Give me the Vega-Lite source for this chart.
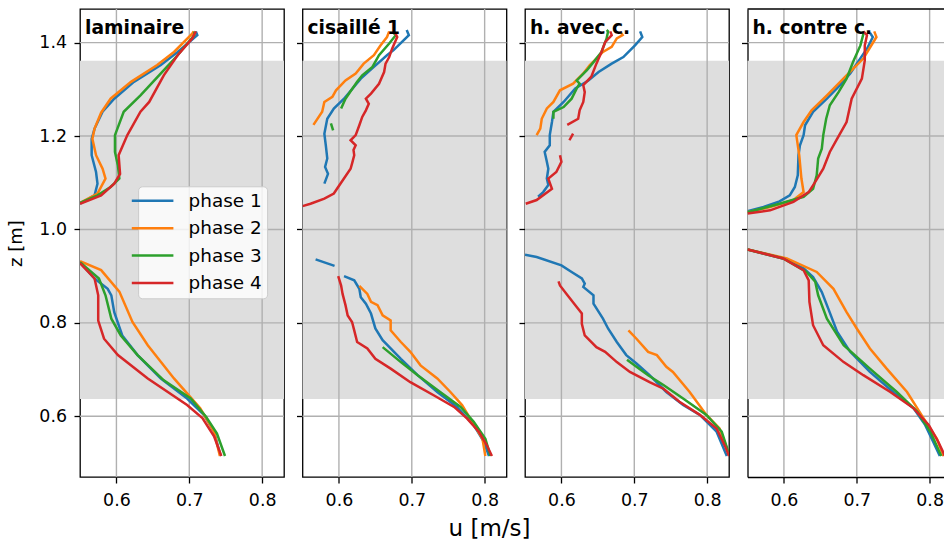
{
"$schema": "https://vega.github.io/schema/vega-lite/v6.json",
"padding": {"left": 7, "top": 7, "right": 0, "bottom": 0},
"background": "white",
"bounds": "flush",
"spacing": 18.5,
"config": {
 "font": "DejaVu Sans",
 "view": {"stroke": "black", "strokeWidth": 1.3},
 "axis": {"grid": false, "domain": false, "tickColor": "black", "tickSize": 6, "tickWidth": 1.3, "labelColor": "black", "labelFontSize": 17.4, "labelFont": "DejaVu Sans", "titleFont": "DejaVu Sans", "titleFontWeight": "normal", "titleColor": "black", "labelPadding": 7.5},
 "legend": {"labelFont": "DejaVu Sans"}
},
"resolve": {"legend": {"color": "independent"}},
"datasets": {
 "band": [{"z0": 0.637, "z1": 1.361}],
 "xg": [{"g": 0.6}, {"g": 0.7}, {"g": 0.8}],
 "yg": [{"g": 0.6}, {"g": 0.8}, {"g": 1.0}, {"g": 1.2}, {"g": 1.4}],
 "topb": [{"g": 1.472}],
 "d": [
{"p":1,"ph":"phase 1","s":"a","u":0.550,"z":0.930},{"p":1,"ph":"phase 1","s":"a","u":0.570,"z":0.895},{"p":1,"ph":"phase 1","s":"a","u":0.588,"z":0.873},{"p":1,"ph":"phase 1","s":"a","u":0.593,"z":0.859},{"p":1,"ph":"phase 1","s":"a","u":0.597,"z":0.823},{"p":1,"ph":"phase 1","s":"a","u":0.608,"z":0.773},{"p":1,"ph":"phase 1","s":"a","u":0.629,"z":0.731},{"p":1,"ph":"phase 1","s":"a","u":0.661,"z":0.681},{"p":1,"ph":"phase 1","s":"a","u":0.697,"z":0.638},{"p":1,"ph":"phase 1","s":"a","u":0.720,"z":0.603},{"p":1,"ph":"phase 1","s":"a","u":0.734,"z":0.567},{"p":1,"ph":"phase 1","s":"a","u":0.743,"z":0.515},
{"p":1,"ph":"phase 1","s":"b","u":0.550,"z":1.055},{"p":1,"ph":"phase 1","s":"b","u":0.570,"z":1.073},{"p":1,"ph":"phase 1","s":"b","u":0.574,"z":1.098},{"p":1,"ph":"phase 1","s":"b","u":0.572,"z":1.123},{"p":1,"ph":"phase 1","s":"b","u":0.566,"z":1.159},{"p":1,"ph":"phase 1","s":"b","u":0.566,"z":1.194},{"p":1,"ph":"phase 1","s":"b","u":0.570,"z":1.216},{"p":1,"ph":"phase 1","s":"b","u":0.581,"z":1.252},{"p":1,"ph":"phase 1","s":"b","u":0.597,"z":1.280},{"p":1,"ph":"phase 1","s":"b","u":0.624,"z":1.316},{"p":1,"ph":"phase 1","s":"b","u":0.661,"z":1.352},{"p":1,"ph":"phase 1","s":"b","u":0.684,"z":1.380},{"p":1,"ph":"phase 1","s":"b","u":0.711,"z":1.416},{"p":1,"ph":"phase 1","s":"b","u":0.709,"z":1.424},
{"p":1,"ph":"phase 2","s":"a","u":0.550,"z":0.932},{"p":1,"ph":"phase 2","s":"a","u":0.579,"z":0.913},{"p":1,"ph":"phase 2","s":"a","u":0.604,"z":0.867},{"p":1,"ph":"phase 2","s":"a","u":0.622,"z":0.802},{"p":1,"ph":"phase 2","s":"a","u":0.643,"z":0.752},{"p":1,"ph":"phase 2","s":"a","u":0.679,"z":0.681},{"p":1,"ph":"phase 2","s":"a","u":0.715,"z":0.617},{"p":1,"ph":"phase 2","s":"a","u":0.734,"z":0.567},{"p":1,"ph":"phase 2","s":"a","u":0.742,"z":0.515},
{"p":1,"ph":"phase 2","s":"b","u":0.550,"z":1.057},{"p":1,"ph":"phase 2","s":"b","u":0.574,"z":1.077},{"p":1,"ph":"phase 2","s":"b","u":0.585,"z":1.109},{"p":1,"ph":"phase 2","s":"b","u":0.581,"z":1.130},{"p":1,"ph":"phase 2","s":"b","u":0.572,"z":1.159},{"p":1,"ph":"phase 2","s":"b","u":0.567,"z":1.194},{"p":1,"ph":"phase 2","s":"b","u":0.570,"z":1.216},{"p":1,"ph":"phase 2","s":"b","u":0.579,"z":1.250},{"p":1,"ph":"phase 2","s":"b","u":0.592,"z":1.280},{"p":1,"ph":"phase 2","s":"b","u":0.620,"z":1.316},{"p":1,"ph":"phase 2","s":"b","u":0.656,"z":1.352},{"p":1,"ph":"phase 2","s":"b","u":0.679,"z":1.380},{"p":1,"ph":"phase 2","s":"b","u":0.704,"z":1.419},{"p":1,"ph":"phase 2","s":"b","u":0.706,"z":1.424},
{"p":1,"ph":"phase 3","s":"a","u":0.550,"z":0.930},{"p":1,"ph":"phase 3","s":"a","u":0.576,"z":0.895},{"p":1,"ph":"phase 3","s":"a","u":0.585,"z":0.859},{"p":1,"ph":"phase 3","s":"a","u":0.593,"z":0.809},{"p":1,"ph":"phase 3","s":"a","u":0.606,"z":0.773},{"p":1,"ph":"phase 3","s":"a","u":0.629,"z":0.731},{"p":1,"ph":"phase 3","s":"a","u":0.665,"z":0.677},{"p":1,"ph":"phase 3","s":"a","u":0.702,"z":0.638},{"p":1,"ph":"phase 3","s":"a","u":0.723,"z":0.599},{"p":1,"ph":"phase 3","s":"a","u":0.738,"z":0.563},{"p":1,"ph":"phase 3","s":"a","u":0.749,"z":0.515},
{"p":1,"ph":"phase 3","s":"b","u":0.550,"z":1.057},{"p":1,"ph":"phase 3","s":"b","u":0.574,"z":1.073},{"p":1,"ph":"phase 3","s":"b","u":0.592,"z":1.091},{"p":1,"ph":"phase 3","s":"b","u":0.604,"z":1.109},{"p":1,"ph":"phase 3","s":"b","u":0.602,"z":1.137},{"p":1,"ph":"phase 3","s":"b","u":0.598,"z":1.166},{"p":1,"ph":"phase 3","s":"b","u":0.598,"z":1.202},{"p":1,"ph":"phase 3","s":"b","u":0.610,"z":1.252},{"p":1,"ph":"phase 3","s":"b","u":0.633,"z":1.287},{"p":1,"ph":"phase 3","s":"b","u":0.661,"z":1.334},{"p":1,"ph":"phase 3","s":"b","u":0.684,"z":1.373},{"p":1,"ph":"phase 3","s":"b","u":0.707,"z":1.416},{"p":1,"ph":"phase 3","s":"b","u":0.707,"z":1.424},
{"p":1,"ph":"phase 4","s":"a","u":0.550,"z":0.928},{"p":1,"ph":"phase 4","s":"a","u":0.570,"z":0.895},{"p":1,"ph":"phase 4","s":"a","u":0.575,"z":0.859},{"p":1,"ph":"phase 4","s":"a","u":0.575,"z":0.805},{"p":1,"ph":"phase 4","s":"a","u":0.583,"z":0.766},{"p":1,"ph":"phase 4","s":"a","u":0.602,"z":0.731},{"p":1,"ph":"phase 4","s":"a","u":0.643,"z":0.681},{"p":1,"ph":"phase 4","s":"a","u":0.697,"z":0.624},{"p":1,"ph":"phase 4","s":"a","u":0.718,"z":0.596},{"p":1,"ph":"phase 4","s":"a","u":0.734,"z":0.557},{"p":1,"ph":"phase 4","s":"a","u":0.744,"z":0.515},
{"p":1,"ph":"phase 4","s":"b","u":0.550,"z":1.055},{"p":1,"ph":"phase 4","s":"b","u":0.579,"z":1.073},{"p":1,"ph":"phase 4","s":"b","u":0.597,"z":1.098},{"p":1,"ph":"phase 4","s":"b","u":0.605,"z":1.119},{"p":1,"ph":"phase 4","s":"b","u":0.603,"z":1.159},{"p":1,"ph":"phase 4","s":"b","u":0.615,"z":1.202},{"p":1,"ph":"phase 4","s":"b","u":0.633,"z":1.252},{"p":1,"ph":"phase 4","s":"b","u":0.645,"z":1.273},{"p":1,"ph":"phase 4","s":"b","u":0.665,"z":1.330},{"p":1,"ph":"phase 4","s":"b","u":0.684,"z":1.373},{"p":1,"ph":"phase 4","s":"b","u":0.704,"z":1.409},{"p":1,"ph":"phase 4","s":"b","u":0.709,"z":1.424},

{"p":2,"ph":"phase 1","s":"a1","u":0.568,"z":0.936},{"p":2,"ph":"phase 1","s":"a1","u":0.594,"z":0.922},
{"p":2,"ph":"phase 1","s":"a2","u":0.607,"z":0.900},{"p":2,"ph":"phase 1","s":"a2","u":0.621,"z":0.891},{"p":2,"ph":"phase 1","s":"a2","u":0.628,"z":0.873},{"p":2,"ph":"phase 1","s":"a2","u":0.630,"z":0.855},{"p":2,"ph":"phase 1","s":"a2","u":0.637,"z":0.841},{"p":2,"ph":"phase 1","s":"a2","u":0.644,"z":0.820},{"p":2,"ph":"phase 1","s":"a2","u":0.650,"z":0.788},{"p":2,"ph":"phase 1","s":"a2","u":0.660,"z":0.763},{"p":2,"ph":"phase 1","s":"a2","u":0.685,"z":0.723},{"p":2,"ph":"phase 1","s":"a2","u":0.708,"z":0.688},{"p":2,"ph":"phase 1","s":"a2","u":0.735,"z":0.652},{"p":2,"ph":"phase 1","s":"a2","u":0.762,"z":0.620},{"p":2,"ph":"phase 1","s":"a2","u":0.785,"z":0.581},{"p":2,"ph":"phase 1","s":"a2","u":0.799,"z":0.545},{"p":2,"ph":"phase 1","s":"a2","u":0.806,"z":0.515},
{"p":2,"ph":"phase 1","s":"b","u":0.580,"z":1.098},{"p":2,"ph":"phase 1","s":"b","u":0.585,"z":1.119},{"p":2,"ph":"phase 1","s":"b","u":0.581,"z":1.134},{"p":2,"ph":"phase 1","s":"b","u":0.584,"z":1.152},{"p":2,"ph":"phase 1","s":"b","u":0.582,"z":1.180},{"p":2,"ph":"phase 1","s":"b","u":0.580,"z":1.205},{"p":2,"ph":"phase 1","s":"b","u":0.584,"z":1.237},{"p":2,"ph":"phase 1","s":"b","u":0.593,"z":1.259},{"p":2,"ph":"phase 1","s":"b","u":0.607,"z":1.280},{"p":2,"ph":"phase 1","s":"b","u":0.630,"z":1.323},{"p":2,"ph":"phase 1","s":"b","u":0.648,"z":1.348},{"p":2,"ph":"phase 1","s":"b","u":0.666,"z":1.373},{"p":2,"ph":"phase 1","s":"b","u":0.675,"z":1.384},{"p":2,"ph":"phase 1","s":"b","u":0.696,"z":1.416},{"p":2,"ph":"phase 1","s":"b","u":0.693,"z":1.427},
{"p":2,"ph":"phase 2","s":"a","u":0.628,"z":0.879},{"p":2,"ph":"phase 2","s":"a","u":0.639,"z":0.862},{"p":2,"ph":"phase 2","s":"a","u":0.644,"z":0.845},{"p":2,"ph":"phase 2","s":"a","u":0.653,"z":0.838},{"p":2,"ph":"phase 2","s":"a","u":0.660,"z":0.816},{"p":2,"ph":"phase 2","s":"a","u":0.671,"z":0.805},{"p":2,"ph":"phase 2","s":"a","u":0.671,"z":0.784},{"p":2,"ph":"phase 2","s":"a","u":0.685,"z":0.759},{"p":2,"ph":"phase 2","s":"a","u":0.698,"z":0.738},{"p":2,"ph":"phase 2","s":"a","u":0.712,"z":0.709},{"p":2,"ph":"phase 2","s":"a","u":0.735,"z":0.681},{"p":2,"ph":"phase 2","s":"a","u":0.753,"z":0.652},{"p":2,"ph":"phase 2","s":"a","u":0.769,"z":0.624},{"p":2,"ph":"phase 2","s":"a","u":0.783,"z":0.588},{"p":2,"ph":"phase 2","s":"a","u":0.797,"z":0.552},{"p":2,"ph":"phase 2","s":"a","u":0.801,"z":0.515},
{"p":2,"ph":"phase 2","s":"b","u":0.565,"z":1.224},{"p":2,"ph":"phase 2","s":"b","u":0.577,"z":1.252},{"p":2,"ph":"phase 2","s":"b","u":0.580,"z":1.273},{"p":2,"ph":"phase 2","s":"b","u":0.591,"z":1.284},{"p":2,"ph":"phase 2","s":"b","u":0.596,"z":1.298},{"p":2,"ph":"phase 2","s":"b","u":0.609,"z":1.319},{"p":2,"ph":"phase 2","s":"b","u":0.623,"z":1.334},{"p":2,"ph":"phase 2","s":"b","u":0.634,"z":1.355},{"p":2,"ph":"phase 2","s":"b","u":0.648,"z":1.373},{"p":2,"ph":"phase 2","s":"b","u":0.657,"z":1.394},{"p":2,"ph":"phase 2","s":"b","u":0.666,"z":1.412},{"p":2,"ph":"phase 2","s":"b","u":0.669,"z":1.424},
{"p":2,"ph":"phase 3","s":"a","u":0.660,"z":0.748},{"p":2,"ph":"phase 3","s":"a","u":0.685,"z":0.716},{"p":2,"ph":"phase 3","s":"a","u":0.708,"z":0.688},{"p":2,"ph":"phase 3","s":"a","u":0.739,"z":0.652},{"p":2,"ph":"phase 3","s":"a","u":0.767,"z":0.620},{"p":2,"ph":"phase 3","s":"a","u":0.785,"z":0.588},{"p":2,"ph":"phase 3","s":"a","u":0.801,"z":0.552},{"p":2,"ph":"phase 3","s":"a","u":0.808,"z":0.515},
{"p":2,"ph":"phase 3","s":"c","u":0.589,"z":1.227},{"p":2,"ph":"phase 3","s":"c","u":0.592,"z":1.212},
{"p":2,"ph":"phase 3","s":"b","u":0.603,"z":1.259},{"p":2,"ph":"phase 3","s":"b","u":0.609,"z":1.280},{"p":2,"ph":"phase 3","s":"b","u":0.625,"z":1.316},{"p":2,"ph":"phase 3","s":"b","u":0.632,"z":1.330},{"p":2,"ph":"phase 3","s":"b","u":0.646,"z":1.348},{"p":2,"ph":"phase 3","s":"b","u":0.655,"z":1.373},{"p":2,"ph":"phase 3","s":"b","u":0.669,"z":1.398},{"p":2,"ph":"phase 3","s":"b","u":0.678,"z":1.416},{"p":2,"ph":"phase 3","s":"b","u":0.675,"z":1.421},
{"p":2,"ph":"phase 4","s":"a","u":0.599,"z":0.900},{"p":2,"ph":"phase 4","s":"a","u":0.603,"z":0.880},{"p":2,"ph":"phase 4","s":"a","u":0.605,"z":0.862},{"p":2,"ph":"phase 4","s":"a","u":0.609,"z":0.838},{"p":2,"ph":"phase 4","s":"a","u":0.612,"z":0.816},{"p":2,"ph":"phase 4","s":"a","u":0.618,"z":0.802},{"p":2,"ph":"phase 4","s":"a","u":0.621,"z":0.784},{"p":2,"ph":"phase 4","s":"a","u":0.625,"z":0.759},{"p":2,"ph":"phase 4","s":"a","u":0.639,"z":0.745},{"p":2,"ph":"phase 4","s":"a","u":0.650,"z":0.723},{"p":2,"ph":"phase 4","s":"a","u":0.671,"z":0.702},{"p":2,"ph":"phase 4","s":"a","u":0.698,"z":0.673},{"p":2,"ph":"phase 4","s":"a","u":0.730,"z":0.645},{"p":2,"ph":"phase 4","s":"a","u":0.758,"z":0.620},{"p":2,"ph":"phase 4","s":"a","u":0.776,"z":0.595},{"p":2,"ph":"phase 4","s":"a","u":0.792,"z":0.567},{"p":2,"ph":"phase 4","s":"a","u":0.803,"z":0.538},{"p":2,"ph":"phase 4","s":"a","u":0.810,"z":0.515},
{"p":2,"ph":"phase 4","s":"b","u":0.550,"z":1.050},{"p":2,"ph":"phase 4","s":"b","u":0.561,"z":1.055},{"p":2,"ph":"phase 4","s":"b","u":0.580,"z":1.066},{"p":2,"ph":"phase 4","s":"b","u":0.593,"z":1.077},{"p":2,"ph":"phase 4","s":"b","u":0.602,"z":1.098},{"p":2,"ph":"phase 4","s":"b","u":0.616,"z":1.130},{"p":2,"ph":"phase 4","s":"b","u":0.618,"z":1.141},{"p":2,"ph":"phase 4","s":"b","u":0.621,"z":1.159},{"p":2,"ph":"phase 4","s":"b","u":0.620,"z":1.170},{"p":2,"ph":"phase 4","s":"b","u":0.623,"z":1.180},{"p":2,"ph":"phase 4","s":"b","u":0.616,"z":1.191},{"p":2,"ph":"phase 4","s":"b","u":0.623,"z":1.202},{"p":2,"ph":"phase 4","s":"b","u":0.628,"z":1.223},{"p":2,"ph":"phase 4","s":"b","u":0.632,"z":1.241},{"p":2,"ph":"phase 4","s":"b","u":0.637,"z":1.255},{"p":2,"ph":"phase 4","s":"b","u":0.641,"z":1.269},{"p":2,"ph":"phase 4","s":"b","u":0.637,"z":1.280},{"p":2,"ph":"phase 4","s":"b","u":0.644,"z":1.291},{"p":2,"ph":"phase 4","s":"b","u":0.655,"z":1.312},{"p":2,"ph":"phase 4","s":"b","u":0.662,"z":1.337},{"p":2,"ph":"phase 4","s":"b","u":0.664,"z":1.355},{"p":2,"ph":"phase 4","s":"b","u":0.669,"z":1.369},{"p":2,"ph":"phase 4","s":"b","u":0.673,"z":1.387},{"p":2,"ph":"phase 4","s":"b","u":0.680,"z":1.412},{"p":2,"ph":"phase 4","s":"b","u":0.677,"z":1.421},

{"p":3,"ph":"phase 1","s":"a","u":0.550,"z":0.946},{"p":3,"ph":"phase 1","s":"a","u":0.566,"z":0.941},{"p":3,"ph":"phase 1","s":"a","u":0.600,"z":0.923},{"p":3,"ph":"phase 1","s":"a","u":0.614,"z":0.909},{"p":3,"ph":"phase 1","s":"a","u":0.628,"z":0.895},{"p":3,"ph":"phase 1","s":"a","u":0.632,"z":0.884},{"p":3,"ph":"phase 1","s":"a","u":0.630,"z":0.877},{"p":3,"ph":"phase 1","s":"a","u":0.644,"z":0.859},{"p":3,"ph":"phase 1","s":"a","u":0.644,"z":0.841},{"p":3,"ph":"phase 1","s":"a","u":0.657,"z":0.809},{"p":3,"ph":"phase 1","s":"a","u":0.664,"z":0.788},{"p":3,"ph":"phase 1","s":"a","u":0.676,"z":0.759},{"p":3,"ph":"phase 1","s":"a","u":0.689,"z":0.731},{"p":3,"ph":"phase 1","s":"a","u":0.703,"z":0.713},{"p":3,"ph":"phase 1","s":"a","u":0.721,"z":0.688},{"p":3,"ph":"phase 1","s":"a","u":0.744,"z":0.652},{"p":3,"ph":"phase 1","s":"a","u":0.767,"z":0.624},{"p":3,"ph":"phase 1","s":"a","u":0.790,"z":0.603},{"p":3,"ph":"phase 1","s":"a","u":0.813,"z":0.567},{"p":3,"ph":"phase 1","s":"a","u":0.827,"z":0.515},
{"p":3,"ph":"phase 1","s":"b","u":0.568,"z":1.070},{"p":3,"ph":"phase 1","s":"b","u":0.575,"z":1.080},{"p":3,"ph":"phase 1","s":"b","u":0.582,"z":1.095},{"p":3,"ph":"phase 1","s":"b","u":0.580,"z":1.109},{"p":3,"ph":"phase 1","s":"b","u":0.582,"z":1.130},{"p":3,"ph":"phase 1","s":"b","u":0.580,"z":1.145},{"p":3,"ph":"phase 1","s":"b","u":0.577,"z":1.166},{"p":3,"ph":"phase 1","s":"b","u":0.584,"z":1.180},{"p":3,"ph":"phase 1","s":"b","u":0.584,"z":1.202},{"p":3,"ph":"phase 1","s":"b","u":0.587,"z":1.230},{"p":3,"ph":"phase 1","s":"b","u":0.589,"z":1.252},{"p":3,"ph":"phase 1","s":"b","u":0.603,"z":1.273},{"p":3,"ph":"phase 1","s":"b","u":0.619,"z":1.302},{"p":3,"ph":"phase 1","s":"b","u":0.637,"z":1.319},{"p":3,"ph":"phase 1","s":"b","u":0.651,"z":1.337},{"p":3,"ph":"phase 1","s":"b","u":0.669,"z":1.355},{"p":3,"ph":"phase 1","s":"b","u":0.685,"z":1.369},{"p":3,"ph":"phase 1","s":"b","u":0.701,"z":1.394},{"p":3,"ph":"phase 1","s":"b","u":0.711,"z":1.412},{"p":3,"ph":"phase 1","s":"b","u":0.708,"z":1.424},
{"p":3,"ph":"phase 2","s":"a","u":0.692,"z":0.784},{"p":3,"ph":"phase 2","s":"a","u":0.703,"z":0.766},{"p":3,"ph":"phase 2","s":"a","u":0.719,"z":0.738},{"p":3,"ph":"phase 2","s":"a","u":0.731,"z":0.731},{"p":3,"ph":"phase 2","s":"a","u":0.744,"z":0.706},{"p":3,"ph":"phase 2","s":"a","u":0.753,"z":0.695},{"p":3,"ph":"phase 2","s":"a","u":0.776,"z":0.652},{"p":3,"ph":"phase 2","s":"a","u":0.799,"z":0.603},{"p":3,"ph":"phase 2","s":"a","u":0.817,"z":0.574},{"p":3,"ph":"phase 2","s":"a","u":0.829,"z":0.524},{"p":3,"ph":"phase 2","s":"a","u":0.832,"z":0.515},
{"p":3,"ph":"phase 2","s":"b","u":0.566,"z":1.202},{"p":3,"ph":"phase 2","s":"b","u":0.571,"z":1.216},{"p":3,"ph":"phase 2","s":"b","u":0.573,"z":1.237},{"p":3,"ph":"phase 2","s":"b","u":0.580,"z":1.259},{"p":3,"ph":"phase 2","s":"b","u":0.589,"z":1.273},{"p":3,"ph":"phase 2","s":"b","u":0.598,"z":1.298},{"p":3,"ph":"phase 2","s":"b","u":0.616,"z":1.312},{"p":3,"ph":"phase 2","s":"b","u":0.630,"z":1.334},{"p":3,"ph":"phase 2","s":"b","u":0.639,"z":1.352},{"p":3,"ph":"phase 2","s":"b","u":0.657,"z":1.380},{"p":3,"ph":"phase 2","s":"b","u":0.669,"z":1.391},{"p":3,"ph":"phase 2","s":"b","u":0.676,"z":1.409},{"p":3,"ph":"phase 2","s":"b","u":0.684,"z":1.416},{"p":3,"ph":"phase 2","s":"b","u":0.682,"z":1.421},
{"p":3,"ph":"phase 3","s":"a","u":0.690,"z":0.721},{"p":3,"ph":"phase 3","s":"a","u":0.703,"z":0.706},{"p":3,"ph":"phase 3","s":"a","u":0.719,"z":0.688},{"p":3,"ph":"phase 3","s":"a","u":0.740,"z":0.667},{"p":3,"ph":"phase 3","s":"a","u":0.767,"z":0.638},{"p":3,"ph":"phase 3","s":"a","u":0.799,"z":0.603},{"p":3,"ph":"phase 3","s":"a","u":0.820,"z":0.567},{"p":3,"ph":"phase 3","s":"a","u":0.829,"z":0.524},{"p":3,"ph":"phase 3","s":"a","u":0.832,"z":0.515},
{"p":3,"ph":"phase 3","s":"b","u":0.589,"z":1.237},{"p":3,"ph":"phase 3","s":"b","u":0.589,"z":1.252},{"p":3,"ph":"phase 3","s":"b","u":0.603,"z":1.262},{"p":3,"ph":"phase 3","s":"b","u":0.614,"z":1.280},{"p":3,"ph":"phase 3","s":"b","u":0.621,"z":1.302},{"p":3,"ph":"phase 3","s":"b","u":0.625,"z":1.312},{"p":3,"ph":"phase 3","s":"b","u":0.621,"z":1.319},{"p":3,"ph":"phase 3","s":"b","u":0.635,"z":1.341},{"p":3,"ph":"phase 3","s":"b","u":0.646,"z":1.362},{"p":3,"ph":"phase 3","s":"b","u":0.655,"z":1.380},{"p":3,"ph":"phase 3","s":"b","u":0.662,"z":1.409},{"p":3,"ph":"phase 3","s":"b","u":0.664,"z":1.424},{"p":3,"ph":"phase 3","s":"b","u":0.662,"z":1.427},
{"p":3,"ph":"phase 4","s":"a","u":0.596,"z":0.889},{"p":3,"ph":"phase 4","s":"a","u":0.598,"z":0.880},{"p":3,"ph":"phase 4","s":"a","u":0.607,"z":0.862},{"p":3,"ph":"phase 4","s":"a","u":0.621,"z":0.834},{"p":3,"ph":"phase 4","s":"a","u":0.628,"z":0.820},{"p":3,"ph":"phase 4","s":"a","u":0.628,"z":0.798},{"p":3,"ph":"phase 4","s":"a","u":0.632,"z":0.773},{"p":3,"ph":"phase 4","s":"a","u":0.648,"z":0.748},{"p":3,"ph":"phase 4","s":"a","u":0.660,"z":0.738},{"p":3,"ph":"phase 4","s":"a","u":0.676,"z":0.716},{"p":3,"ph":"phase 4","s":"a","u":0.694,"z":0.695},{"p":3,"ph":"phase 4","s":"a","u":0.721,"z":0.673},{"p":3,"ph":"phase 4","s":"a","u":0.740,"z":0.659},{"p":3,"ph":"phase 4","s":"a","u":0.762,"z":0.631},{"p":3,"ph":"phase 4","s":"a","u":0.790,"z":0.603},{"p":3,"ph":"phase 4","s":"a","u":0.813,"z":0.574},{"p":3,"ph":"phase 4","s":"a","u":0.826,"z":0.531},{"p":3,"ph":"phase 4","s":"a","u":0.830,"z":0.515},
{"p":3,"ph":"phase 4","s":"b","u":0.551,"z":1.055},{"p":3,"ph":"phase 4","s":"b","u":0.566,"z":1.063},{"p":3,"ph":"phase 4","s":"b","u":0.587,"z":1.087},{"p":3,"ph":"phase 4","s":"b","u":0.582,"z":1.109},{"p":3,"ph":"phase 4","s":"b","u":0.593,"z":1.123},{"p":3,"ph":"phase 4","s":"b","u":0.600,"z":1.145},{"p":3,"ph":"phase 4","s":"b","u":0.598,"z":1.159},
{"p":3,"ph":"phase 4","s":"c","u":0.611,"z":1.191},{"p":3,"ph":"phase 4","s":"c","u":0.616,"z":1.205},
{"p":3,"ph":"phase 4","s":"d","u":0.608,"z":1.224},{"p":3,"ph":"phase 4","s":"d","u":0.623,"z":1.237},{"p":3,"ph":"phase 4","s":"d","u":0.625,"z":1.255},{"p":3,"ph":"phase 4","s":"d","u":0.630,"z":1.273},{"p":3,"ph":"phase 4","s":"d","u":0.632,"z":1.294},{"p":3,"ph":"phase 4","s":"d","u":0.630,"z":1.309},{"p":3,"ph":"phase 4","s":"d","u":0.641,"z":1.327},{"p":3,"ph":"phase 4","s":"d","u":0.648,"z":1.355},{"p":3,"ph":"phase 4","s":"d","u":0.655,"z":1.380},{"p":3,"ph":"phase 4","s":"d","u":0.660,"z":1.401},{"p":3,"ph":"phase 4","s":"d","u":0.669,"z":1.416},{"p":3,"ph":"phase 4","s":"d","u":0.667,"z":1.424},

{"p":4,"ph":"phase 1","s":"a","u":0.550,"z":0.957},{"p":4,"ph":"phase 1","s":"a","u":0.599,"z":0.938},{"p":4,"ph":"phase 1","s":"a","u":0.627,"z":0.917},{"p":4,"ph":"phase 1","s":"a","u":0.640,"z":0.898},{"p":4,"ph":"phase 1","s":"a","u":0.652,"z":0.866},{"p":4,"ph":"phase 1","s":"a","u":0.661,"z":0.830},{"p":4,"ph":"phase 1","s":"a","u":0.673,"z":0.781},{"p":4,"ph":"phase 1","s":"a","u":0.691,"z":0.738},{"p":4,"ph":"phase 1","s":"a","u":0.718,"z":0.695},{"p":4,"ph":"phase 1","s":"a","u":0.750,"z":0.652},{"p":4,"ph":"phase 1","s":"a","u":0.778,"z":0.617},{"p":4,"ph":"phase 1","s":"a","u":0.794,"z":0.581},{"p":4,"ph":"phase 1","s":"a","u":0.805,"z":0.545},{"p":4,"ph":"phase 1","s":"a","u":0.814,"z":0.515},
{"p":4,"ph":"phase 1","s":"b","u":0.550,"z":1.039},{"p":4,"ph":"phase 1","s":"b","u":0.572,"z":1.048},{"p":4,"ph":"phase 1","s":"b","u":0.594,"z":1.060},{"p":4,"ph":"phase 1","s":"b","u":0.608,"z":1.073},{"p":4,"ph":"phase 1","s":"b","u":0.615,"z":1.091},{"p":4,"ph":"phase 1","s":"b","u":0.619,"z":1.116},{"p":4,"ph":"phase 1","s":"b","u":0.620,"z":1.159},{"p":4,"ph":"phase 1","s":"b","u":0.622,"z":1.180},{"p":4,"ph":"phase 1","s":"b","u":0.627,"z":1.202},{"p":4,"ph":"phase 1","s":"b","u":0.629,"z":1.223},{"p":4,"ph":"phase 1","s":"b","u":0.640,"z":1.252},{"p":4,"ph":"phase 1","s":"b","u":0.659,"z":1.280},{"p":4,"ph":"phase 1","s":"b","u":0.677,"z":1.309},{"p":4,"ph":"phase 1","s":"b","u":0.691,"z":1.334},{"p":4,"ph":"phase 1","s":"b","u":0.700,"z":1.355},{"p":4,"ph":"phase 1","s":"b","u":0.714,"z":1.387},{"p":4,"ph":"phase 1","s":"b","u":0.722,"z":1.412},{"p":4,"ph":"phase 1","s":"b","u":0.718,"z":1.421},
{"p":4,"ph":"phase 2","s":"a","u":0.550,"z":0.957},{"p":4,"ph":"phase 2","s":"a","u":0.604,"z":0.938},{"p":4,"ph":"phase 2","s":"a","u":0.645,"z":0.909},{"p":4,"ph":"phase 2","s":"a","u":0.668,"z":0.873},{"p":4,"ph":"phase 2","s":"a","u":0.686,"z":0.823},{"p":4,"ph":"phase 2","s":"a","u":0.700,"z":0.788},{"p":4,"ph":"phase 2","s":"a","u":0.718,"z":0.745},{"p":4,"ph":"phase 2","s":"a","u":0.741,"z":0.702},{"p":4,"ph":"phase 2","s":"a","u":0.769,"z":0.652},{"p":4,"ph":"phase 2","s":"a","u":0.792,"z":0.595},{"p":4,"ph":"phase 2","s":"a","u":0.810,"z":0.552},{"p":4,"ph":"phase 2","s":"a","u":0.819,"z":0.515},
{"p":4,"ph":"phase 2","s":"b","u":0.550,"z":1.037},{"p":4,"ph":"phase 2","s":"b","u":0.581,"z":1.048},{"p":4,"ph":"phase 2","s":"b","u":0.613,"z":1.063},{"p":4,"ph":"phase 2","s":"b","u":0.627,"z":1.080},{"p":4,"ph":"phase 2","s":"b","u":0.624,"z":1.109},{"p":4,"ph":"phase 2","s":"b","u":0.621,"z":1.159},{"p":4,"ph":"phase 2","s":"b","u":0.617,"z":1.202},{"p":4,"ph":"phase 2","s":"b","u":0.627,"z":1.230},{"p":4,"ph":"phase 2","s":"b","u":0.638,"z":1.255},{"p":4,"ph":"phase 2","s":"b","u":0.659,"z":1.287},{"p":4,"ph":"phase 2","s":"b","u":0.686,"z":1.330},{"p":4,"ph":"phase 2","s":"b","u":0.709,"z":1.366},{"p":4,"ph":"phase 2","s":"b","u":0.727,"z":1.412},{"p":4,"ph":"phase 2","s":"b","u":0.724,"z":1.424},
{"p":4,"ph":"phase 3","s":"a","u":0.550,"z":0.957},{"p":4,"ph":"phase 3","s":"a","u":0.599,"z":0.938},{"p":4,"ph":"phase 3","s":"a","u":0.631,"z":0.909},{"p":4,"ph":"phase 3","s":"a","u":0.643,"z":0.888},{"p":4,"ph":"phase 3","s":"a","u":0.647,"z":0.859},{"p":4,"ph":"phase 3","s":"a","u":0.659,"z":0.809},{"p":4,"ph":"phase 3","s":"a","u":0.682,"z":0.752},{"p":4,"ph":"phase 3","s":"a","u":0.718,"z":0.702},{"p":4,"ph":"phase 3","s":"a","u":0.755,"z":0.652},{"p":4,"ph":"phase 3","s":"a","u":0.783,"z":0.610},{"p":4,"ph":"phase 3","s":"a","u":0.801,"z":0.567},{"p":4,"ph":"phase 3","s":"a","u":0.816,"z":0.515},
{"p":4,"ph":"phase 3","s":"b","u":0.550,"z":1.037},{"p":4,"ph":"phase 3","s":"b","u":0.594,"z":1.055},{"p":4,"ph":"phase 3","s":"b","u":0.627,"z":1.070},{"p":4,"ph":"phase 3","s":"b","u":0.640,"z":1.087},{"p":4,"ph":"phase 3","s":"b","u":0.645,"z":1.116},{"p":4,"ph":"phase 3","s":"b","u":0.647,"z":1.152},{"p":4,"ph":"phase 3","s":"b","u":0.652,"z":1.173},{"p":4,"ph":"phase 3","s":"b","u":0.654,"z":1.202},{"p":4,"ph":"phase 3","s":"b","u":0.658,"z":1.237},{"p":4,"ph":"phase 3","s":"b","u":0.663,"z":1.266},{"p":4,"ph":"phase 3","s":"b","u":0.675,"z":1.294},{"p":4,"ph":"phase 3","s":"b","u":0.686,"z":1.323},{"p":4,"ph":"phase 3","s":"b","u":0.695,"z":1.359},{"p":4,"ph":"phase 3","s":"b","u":0.705,"z":1.394},{"p":4,"ph":"phase 3","s":"b","u":0.710,"z":1.424},
{"p":4,"ph":"phase 4","s":"a","u":0.550,"z":0.957},{"p":4,"ph":"phase 4","s":"a","u":0.599,"z":0.938},{"p":4,"ph":"phase 4","s":"a","u":0.627,"z":0.913},{"p":4,"ph":"phase 4","s":"a","u":0.634,"z":0.891},{"p":4,"ph":"phase 4","s":"a","u":0.635,"z":0.845},{"p":4,"ph":"phase 4","s":"a","u":0.640,"z":0.795},{"p":4,"ph":"phase 4","s":"a","u":0.654,"z":0.752},{"p":4,"ph":"phase 4","s":"a","u":0.682,"z":0.716},{"p":4,"ph":"phase 4","s":"a","u":0.709,"z":0.688},{"p":4,"ph":"phase 4","s":"a","u":0.746,"z":0.652},{"p":4,"ph":"phase 4","s":"a","u":0.778,"z":0.617},{"p":4,"ph":"phase 4","s":"a","u":0.799,"z":0.581},{"p":4,"ph":"phase 4","s":"a","u":0.812,"z":0.545},{"p":4,"ph":"phase 4","s":"a","u":0.821,"z":0.515},
{"p":4,"ph":"phase 4","s":"b","u":0.550,"z":1.034},{"p":4,"ph":"phase 4","s":"b","u":0.581,"z":1.041},{"p":4,"ph":"phase 4","s":"b","u":0.613,"z":1.059},{"p":4,"ph":"phase 4","s":"b","u":0.634,"z":1.080},{"p":4,"ph":"phase 4","s":"b","u":0.643,"z":1.102},{"p":4,"ph":"phase 4","s":"b","u":0.654,"z":1.130},{"p":4,"ph":"phase 4","s":"b","u":0.663,"z":1.166},{"p":4,"ph":"phase 4","s":"b","u":0.673,"z":1.194},{"p":4,"ph":"phase 4","s":"b","u":0.686,"z":1.230},{"p":4,"ph":"phase 4","s":"b","u":0.693,"z":1.280},{"p":4,"ph":"phase 4","s":"b","u":0.707,"z":1.323},{"p":4,"ph":"phase 4","s":"b","u":0.711,"z":1.362},{"p":4,"ph":"phase 4","s":"b","u":0.711,"z":1.394},{"p":4,"ph":"phase 4","s":"b","u":0.714,"z":1.416},{"p":4,"ph":"phase 4","s":"b","u":0.709,"z":1.424}
 ]
},
"hconcat": [
 {
  "width": 204, "height": 468,
  "layer": [
   {"data": {"name": "band"}, "mark": {"type": "rect", "color": "#dedede"}, "encoding": {"y": {"field": "z0", "type": "quantitative", "scale": {"domain": [0.47, 1.472], "nice": false, "zero": false}}, "y2": {"field": "z1"}}},
   {"data": {"name": "xg"}, "mark": {"type": "rule", "color": "#b0b0b0", "strokeWidth": 1.4}, "encoding": {"x": {"field": "g", "type": "quantitative", "scale": {"domain": [0.55, 0.83], "nice": false, "zero": false}}}},
   {"data": {"name": "yg"}, "mark": {"type": "rule", "color": "#b0b0b0", "strokeWidth": 1.4}, "encoding": {"y": {"field": "g", "type": "quantitative", "scale": {"domain": [0.47, 1.472], "nice": false, "zero": false}}}},
   {"data": {"name": "d"}, "transform": [{"filter": "datum.p == 1"}], "mark": {"type": "line", "strokeWidth": 2.5, "clip": true},
    "encoding": {
     "x": {"field": "u", "type": "quantitative", "scale": {"domain": [0.55, 0.83], "nice": false, "zero": false}, "axis": {"values": [0.6, 0.7, 0.8], "format": ".1f", "title": null, "labelPadding": 8}},
     "y": {"field": "z", "type": "quantitative", "scale": {"domain": [0.47, 1.472], "nice": false, "zero": false}, "axis": {"values": [0.6, 0.8, 1.0, 1.2, 1.4], "format": ".1f", "title": "z [m]", "titleFontSize": 18, "titlePadding": 13}},
     "color": {"field": "ph", "type": "nominal", "scale": {"domain": ["phase 1", "phase 2", "phase 3", "phase 4"], "range": ["#1f77b4", "#ff7f0e", "#2ca02c", "#d62728"]},
      "legend": {"title": null, "orient": "none", "legendX": 58.1, "legendY": 177.3, "fillColor": "rgba(255,255,255,0.8)", "strokeColor": "#cccccc", "cornerRadius": 4, "padding": 5, "symbolType": "M-2.6,0H2.6", "symbolSize": 256, "symbolStrokeWidth": 2.5, "labelFontSize": 18.4, "labelColor": "black", "labelOffset": 26.5, "rowPadding": 8.4}},
     "detail": {"field": "s"},
     "order": {"value": null}
    }},
   {"data": {"values": [{"t": "laminaire"}]}, "mark": {"type": "text", "align": "left", "baseline": "alphabetic", "dx": 5, "dy": 25, "fontSize": 18.7, "fontWeight": "bold", "color": "black"},
    "encoding": {"x": {"datum": 0.55, "type": "quantitative", "scale": {"domain": [0.55, 0.83], "nice": false, "zero": false}}, "y": {"datum": 1.472, "type": "quantitative", "scale": {"domain": [0.47, 1.472], "nice": false, "zero": false}}, "text": {"field": "t"}}}
  ]
 },
 {
  "width": 204, "height": 468,
  "layer": [
   {"data": {"name": "band"}, "mark": {"type": "rect", "color": "#dedede"}, "encoding": {"y": {"field": "z0", "type": "quantitative", "scale": {"domain": [0.47, 1.472], "nice": false, "zero": false}}, "y2": {"field": "z1"}}},
   {"data": {"name": "xg"}, "mark": {"type": "rule", "color": "#b0b0b0", "strokeWidth": 1.4}, "encoding": {"x": {"field": "g", "type": "quantitative", "scale": {"domain": [0.55, 0.83], "nice": false, "zero": false}}}},
   {"data": {"name": "yg"}, "mark": {"type": "rule", "color": "#b0b0b0", "strokeWidth": 1.4}, "encoding": {"y": {"field": "g", "type": "quantitative", "scale": {"domain": [0.47, 1.472], "nice": false, "zero": false}}}},
   {"data": {"name": "d"}, "transform": [{"filter": "datum.p == 2"}], "mark": {"type": "line", "strokeWidth": 2.5, "clip": true},
    "encoding": {
     "x": {"field": "u", "type": "quantitative", "scale": {"domain": [0.55, 0.83], "nice": false, "zero": false}, "axis": {"values": [0.6, 0.7, 0.8], "format": ".1f", "title": "u [m/s]", "labelPadding": 8, "titleFontSize": 23, "titleX": 186.5, "titleY": 58, "titleAlign": "center", "titleBaseline": "alphabetic", "titleAngle": 0}},
     "y": {"field": "z", "type": "quantitative", "scale": {"domain": [0.47, 1.472], "nice": false, "zero": false}, "axis": {"values": [0.6, 0.8, 1.0, 1.2, 1.4], "labels": false, "title": null}},
     "color": {"field": "ph", "type": "nominal", "scale": {"domain": ["phase 1", "phase 2", "phase 3", "phase 4"], "range": ["#1f77b4", "#ff7f0e", "#2ca02c", "#d62728"]}, "legend": null},
     "detail": {"field": "s"},
     "order": {"value": null}
    }},
   {"data": {"values": [{"t": "cisaillé 1"}]}, "mark": {"type": "text", "align": "left", "baseline": "alphabetic", "dx": 5, "dy": 25, "fontSize": 18.7, "fontWeight": "bold", "color": "black"},
    "encoding": {"x": {"datum": 0.55, "type": "quantitative", "scale": {"domain": [0.55, 0.83], "nice": false, "zero": false}}, "y": {"datum": 1.472, "type": "quantitative", "scale": {"domain": [0.47, 1.472], "nice": false, "zero": false}}, "text": {"field": "t"}}}
  ]
 },
 {
  "width": 204, "height": 468,
  "layer": [
   {"data": {"name": "band"}, "mark": {"type": "rect", "color": "#dedede"}, "encoding": {"y": {"field": "z0", "type": "quantitative", "scale": {"domain": [0.47, 1.472], "nice": false, "zero": false}}, "y2": {"field": "z1"}}},
   {"data": {"name": "xg"}, "mark": {"type": "rule", "color": "#b0b0b0", "strokeWidth": 1.4}, "encoding": {"x": {"field": "g", "type": "quantitative", "scale": {"domain": [0.55, 0.83], "nice": false, "zero": false}}}},
   {"data": {"name": "yg"}, "mark": {"type": "rule", "color": "#b0b0b0", "strokeWidth": 1.4}, "encoding": {"y": {"field": "g", "type": "quantitative", "scale": {"domain": [0.47, 1.472], "nice": false, "zero": false}}}},
   {"data": {"name": "d"}, "transform": [{"filter": "datum.p == 3"}], "mark": {"type": "line", "strokeWidth": 2.5, "clip": true},
    "encoding": {
     "x": {"field": "u", "type": "quantitative", "scale": {"domain": [0.55, 0.83], "nice": false, "zero": false}, "axis": {"values": [0.6, 0.7, 0.8], "format": ".1f", "title": null, "labelPadding": 8}},
     "y": {"field": "z", "type": "quantitative", "scale": {"domain": [0.47, 1.472], "nice": false, "zero": false}, "axis": {"values": [0.6, 0.8, 1.0, 1.2, 1.4], "labels": false, "title": null}},
     "color": {"field": "ph", "type": "nominal", "scale": {"domain": ["phase 1", "phase 2", "phase 3", "phase 4"], "range": ["#1f77b4", "#ff7f0e", "#2ca02c", "#d62728"]}, "legend": null},
     "detail": {"field": "s"},
     "order": {"value": null}
    }},
   {"data": {"values": [{"t": "h. avec c."}]}, "mark": {"type": "text", "align": "left", "baseline": "alphabetic", "dx": 5, "dy": 25, "fontSize": 18.7, "fontWeight": "bold", "color": "black"},
    "encoding": {"x": {"datum": 0.55, "type": "quantitative", "scale": {"domain": [0.55, 0.83], "nice": false, "zero": false}}, "y": {"datum": 1.472, "type": "quantitative", "scale": {"domain": [0.47, 1.472], "nice": false, "zero": false}}, "text": {"field": "t"}}}
  ]
 },
 {
  "width": 197.5, "height": 468,
  "view": {"stroke": null},
  "layer": [
   {"data": {"name": "band"}, "mark": {"type": "rect", "color": "#dedede"}, "encoding": {"y": {"field": "z0", "type": "quantitative", "scale": {"domain": [0.47, 1.472], "nice": false, "zero": false}}, "y2": {"field": "z1"}}},
   {"data": {"name": "xg"}, "mark": {"type": "rule", "color": "#b0b0b0", "strokeWidth": 1.4}, "encoding": {"x": {"field": "g", "type": "quantitative", "scale": {"domain": [0.55, 0.8211], "nice": false, "zero": false}}}},
   {"data": {"name": "yg"}, "mark": {"type": "rule", "color": "#b0b0b0", "strokeWidth": 1.4}, "encoding": {"y": {"field": "g", "type": "quantitative", "scale": {"domain": [0.47, 1.472], "nice": false, "zero": false}}}},
   {"data": {"name": "d"}, "transform": [{"filter": "datum.p == 4"}], "mark": {"type": "line", "strokeWidth": 2.5, "clip": true},
    "encoding": {
     "x": {"field": "u", "type": "quantitative", "scale": {"domain": [0.55, 0.8211], "nice": false, "zero": false}, "axis": {"values": [0.6, 0.7, 0.8], "format": ".1f", "title": null, "labelPadding": 8, "domain": true, "domainColor": "black", "domainWidth": 1.3}},
     "y": {"field": "z", "type": "quantitative", "scale": {"domain": [0.47, 1.472], "nice": false, "zero": false}, "axis": {"values": [0.6, 0.8, 1.0, 1.2, 1.4], "labels": false, "title": null, "domain": true, "domainColor": "black", "domainWidth": 1.3}},
     "color": {"field": "ph", "type": "nominal", "scale": {"domain": ["phase 1", "phase 2", "phase 3", "phase 4"], "range": ["#1f77b4", "#ff7f0e", "#2ca02c", "#d62728"]}, "legend": null},
     "detail": {"field": "s"},
     "order": {"value": null}
    }},
   {"data": {"name": "topb"}, "mark": {"type": "rule", "color": "black", "strokeWidth": 1.3}, "encoding": {"y": {"field": "g", "type": "quantitative", "scale": {"domain": [0.47, 1.472], "nice": false, "zero": false}}}},
   {"data": {"values": [{"t": "h. contre c."}]}, "mark": {"type": "text", "align": "left", "baseline": "alphabetic", "dx": 5, "dy": 25, "fontSize": 18.7, "fontWeight": "bold", "color": "black"},
    "encoding": {"x": {"datum": 0.55, "type": "quantitative", "scale": {"domain": [0.55, 0.8211], "nice": false, "zero": false}}, "y": {"datum": 1.472, "type": "quantitative", "scale": {"domain": [0.47, 1.472], "nice": false, "zero": false}}, "text": {"field": "t"}}}
  ]
 }
]
}
